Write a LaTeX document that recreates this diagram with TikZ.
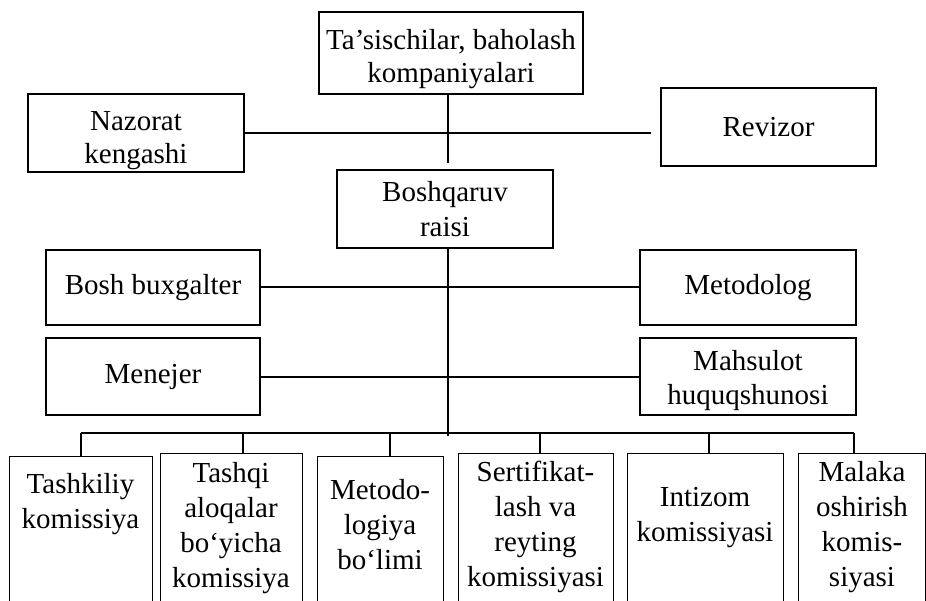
\documentclass[tikz,border=0pt]{standalone}
\usepackage{fontspec}
\setmainfont{Liberation Serif}
% invisible strut that lowers a centred label a little
\newcommand{\lowerby}[1]{\rule{0pt}{#1}}
\begin{document}
\begin{tikzpicture}[x=1pt,y=-1pt,
  line width=1.1pt,
  every node/.style={font=\fontsize{29}{35}\selectfont, align=center, inner sep=0pt},
  box/.style={draw, rectangle},
  lbl/.style={}]
\useasboundingbox (0,0) rectangle (926,601);
\clip (0,0) rectangle (926,601);

% upper level
\node[box, minimum width=264pt, minimum height=82pt] (top) at (451,53) {\lowerby{33pt}Ta’sischilar, baholash\\[-2pt]kompaniyalari};
\node[box, minimum width=216pt, minimum height=78pt] (naz) at (136,133) {\lowerby{34pt}Nazorat\\[-2pt]kengashi};
\node[box, minimum width=215pt, minimum height=78pt] (rev) at (768.5,127) {Revizor};
\node[box, minimum width=216pt, minimum height=78pt] (rais) at (445,209) {Boshqaruv\\raisi};

% staff
\node[box, minimum width=214pt, minimum height=75pt] (bux) at (153,287.5) {Bosh buxgalter};
\node[box, minimum width=216pt, minimum height=75pt] (met) at (748,287.5) {Metodolog};
\node[box, minimum width=214pt, minimum height=77pt] (men) at (153,376.5) {Menejer};
\node[box, minimum width=216pt, minimum height=77pt] (mah) at (748,376.5) {\lowerby{28pt}Mahsulot\\[-1pt]huquqshunosi};

% commissions (running off the bottom edge)
\node[box, minimum width=143pt, minimum height=200pt, anchor=north west] (b1) at (9,456) {};
\node[box, minimum width=142pt, minimum height=200pt, anchor=north west] (b2) at (160,453) {};
\node[box, minimum width=126pt, minimum height=200pt, anchor=north west] (b3) at (317,456) {};
\node[box, minimum width=155pt, minimum height=200pt, anchor=north west] (b4) at (458,453) {};
\node[box, minimum width=156pt, minimum height=200pt, anchor=north west] (b5) at (627,453) {};
\node[box, minimum width=127pt, minimum height=200pt, anchor=north west] (b6) at (798,453) {};

\node[lbl] (t1) at (80.5,504) {Tashkiliy\\komissiya};
\node[lbl] (t2) at (231,528) {Tashqi\\aloqalar\\bo‘yicha\\komissiya};
\node[lbl] (t3) at (380,525) {Metodo-\\logiya\\bo‘limi};
\node[lbl] (t4) at (535.5,527) {Sertifikat-\\lash va\\reyting\\komissiyasi};
\node[lbl] (t5) at (705,518) {Intizom\\komissiyasi};
\node[lbl] (t6) at (862,527) {Malaka\\oshirish\\komis-\\siyasi};

% connectors
\coordinate (s1) at (448,163);
\coordinate (s2) at (448,436);
\coordinate (rv) at (651,133);
\draw (top.south -| s1) -- (s1);
\draw (naz.east |- rv) -- (rv);
\draw (rais.south -| s1) -- (s2);
\draw (bux.east |- 0,287) -- (met.west |- 0,287);
\draw (men.east |- 0,377) -- (mah.west |- 0,377);

\coordinate (busL) at (81,433);
\coordinate (busR) at (854,433);
\draw (busL) -- (busR);
\draw (busL) -- (b1.north -| busL);
\draw (243,433) -- (b2.north -| 243,0);
\draw (390,433) -- (b3.north -| 390,0);
\draw (540,433) -- (b4.north -| 540,0);
\draw (709,433) -- (b5.north -| 709,0);
\draw (busR) -- (b6.north -| busR);
\end{tikzpicture}
\end{document}
